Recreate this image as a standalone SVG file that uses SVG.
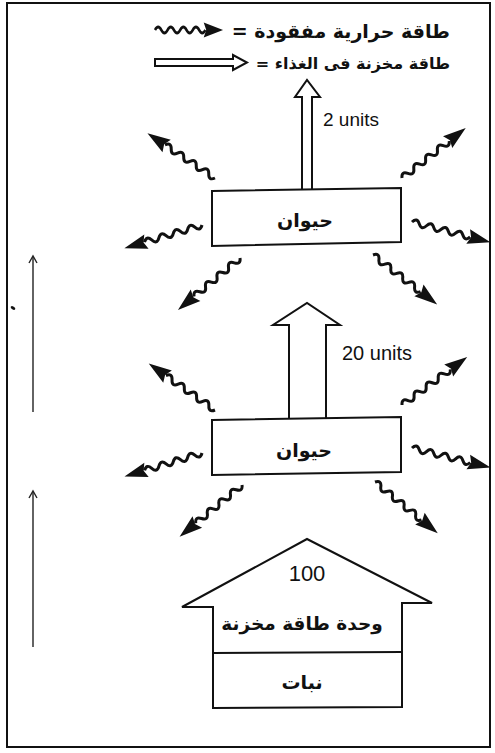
<svg xmlns="http://www.w3.org/2000/svg" xmlns:xlink="http://www.w3.org/1999/xlink" width="495" height="753" viewBox="0 0 495 753">
<style>
.ar{font-family:"DejaVu Sans",sans-serif;font-weight:bold;fill:#111;}
.lt{font-family:"Liberation Sans","DejaVu Sans",sans-serif;fill:#111;}
.ln{fill:none;stroke:#111;stroke-width:2;stroke-linejoin:miter;}
.thin{fill:none;stroke:#222;stroke-width:1.4;}
</style>
<defs>
<g id="wv">
<path d="M0,0 q3.75,-6 7.5,0 t7.5,0 t7.5,0 t7.5,0 t7.5,0 t7.5,0 t7.5,0 t7.5,0" fill="none" stroke="#111" stroke-width="3"/>
<path d="M58,-7.5 L81,0 L58,7.5 L61,0 Z" fill="#111"/>
</g>
<linearGradient id="g1" x1="0" x2="1" y1="0" y2="0">
<stop offset="0" stop-color="#d2d2d2"/>
<stop offset="0.3" stop-color="#e0e0e0"/>
<stop offset="0.55" stop-color="#e8e8e8"/>
<stop offset="0.8" stop-color="#b0b0b0"/>
<stop offset="1" stop-color="#d6d6d6"/>
</linearGradient>
<linearGradient id="g2" x1="0" x2="1" y1="0" y2="0">
<stop offset="0" stop-color="#fff"/>
<stop offset="0.7" stop-color="#fff"/>
<stop offset="0.85" stop-color="#e2e2e2"/>
<stop offset="1" stop-color="#f8f8f8"/>
</linearGradient>
</defs>

<rect x="7" y="3" width="483" height="744" fill="#fff" stroke="#111" stroke-width="2"/>

<g id="legend">
<use xlink:href="#wv" transform="translate(155,30) scale(0.84,1)"/>
<text class="ar" x="450" y="38" font-size="19" direction="rtl" text-anchor="start">طاقة حرارية مفقودة =</text>
<path class="ln" stroke-width="1.5" d="M155,59 L233,59 L233,55 L247,62.5 L233,70 L233,66 L155,66 Z"/>
<text class="ar" x="450" y="69" font-size="16" direction="rtl" text-anchor="start">طاقة مخزنة فى الغذاء =</text>
</g>

<g id="plant">
<path class="ln" d="M213,708 L213,607 L182,607 L307,539 L432,603 L402,603 L402,707 Z" fill="#fff"/>
<line class="ln" x1="213" y1="653" x2="402" y2="652"/>
<text class="lt" x="307" y="581" font-size="22" text-anchor="middle">100</text>
<text class="ar" x="302" y="630" font-size="18.5" text-anchor="middle">وحدة طاقة مخزنة</text>
<text class="ar" x="302" y="689" font-size="19" text-anchor="middle">نبات</text>
</g>

<g id="animal1">
<path class="ln" d="M212,420 L401,417 L401,472 L212,475 Z" fill="url(#g1)"/>
<text class="ar" x="304" y="457" font-size="19" text-anchor="middle">حيوان</text>
</g>

<g id="animal2">
<path class="ln" d="M212,191 L401,188 L401,242 L212,246 Z" fill="url(#g2)"/>
<text class="ar" x="305" y="227" font-size="19" text-anchor="middle">حيوان</text>
</g>

<g id="connectors">
<path class="ln" d="M289,419 L289,325 L273,325 L307,303 L340,325 L326,325 L326,418" fill="#fff"/>
<text class="lt" x="342" y="360" font-size="20">20 units</text>
<path class="ln" d="M302,190 L302,97 L295,97 L307,80 L320,97 L312,97 L312,189" fill="#fff"/>
<text class="lt" x="323" y="126" font-size="19">2 units</text>

<use xlink:href="#wv" transform="translate(215,178) rotate(-146.5)"/>
<use xlink:href="#wv" transform="translate(402,178) rotate(-38.1)"/>
<use xlink:href="#wv" transform="translate(202,225) rotate(163.4)"/>
<use xlink:href="#wv" transform="translate(240,258) rotate(140)"/>
<use xlink:href="#wv" transform="translate(412,222) rotate(14.4)"/>
<use xlink:href="#wv" transform="translate(373,255) rotate(37.6)"/>

<use xlink:href="#wv" transform="translate(215,410) rotate(-144.9)"/>
<use xlink:href="#wv" transform="translate(202,453) rotate(163.1)"/>
<use xlink:href="#wv" transform="translate(242,485) rotate(140.4)"/>
<use xlink:href="#wv" transform="translate(402,405) rotate(-36.4)"/>
<use xlink:href="#wv" transform="translate(412,448) rotate(14)"/>
<use xlink:href="#wv" transform="translate(375,482) rotate(39.2)"/>

<line class="thin" x1="33" y1="412" x2="33" y2="257"/>
<path class="thin" d="M29,263 L33,256 L37,263"/>
<line class="thin" x1="33" y1="647" x2="33" y2="492"/>
<path class="thin" d="M29,498 L33,491 L37,498"/>
<ellipse cx="13" cy="308" rx="2.5" ry="1.5" fill="#111" transform="rotate(30 13 308)"/>
</g>
</svg>
